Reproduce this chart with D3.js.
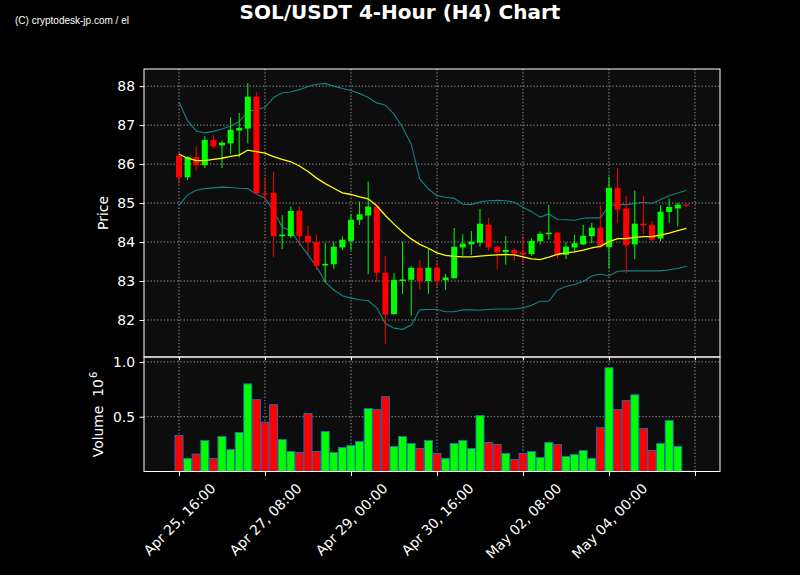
<!DOCTYPE html>
<html><head><meta charset="utf-8">
<script src="https://cdn.jsdelivr.net/npm/d3@7"></script>
<style>html,body{margin:0;padding:0;background:#000;}svg{display:block;}</style>
</head><body>
<div id="chart"></div>
<script>
const openP  = [86.21,85.66,86.18,85.97,86.62,86.48,86.53,86.86,86.91,87.73,85.25,85.26,84.15,84.15,84.80,84.16,84.00,83.40,83.43,83.86,84.03,84.57,84.68,84.91,83.21,82.15,83.00,83.03,83.34,83.00,83.34,83.02,83.07,83.86,83.94,83.98,84.44,83.88,83.74,83.80,83.73,83.69,84.02,84.20,84.24,83.67,83.86,83.94,84.15,84.37,83.87,85.39,84.86,83.94,84.47,84.44,84.09,84.77,84.86,84.96];
const highP  = [86.26,86.20,86.46,86.72,86.75,86.60,87.20,87.31,88.08,87.84,85.62,85.81,84.69,84.91,84.92,84.42,84.19,83.97,84.01,84.14,84.72,85.04,85.55,84.91,83.65,83.20,84.01,83.38,83.54,83.82,83.52,83.18,84.36,84.20,84.28,84.85,84.62,83.90,84.15,83.84,84.16,84.09,84.27,84.95,84.27,83.99,84.19,84.44,84.49,84.95,85.68,85.90,85.19,85.32,85.19,84.54,84.95,85.11,85.01,84.97];
const lowP   = [85.50,85.59,85.83,85.90,86.41,85.90,86.26,86.17,86.53,85.25,85.02,83.61,83.82,84.10,83.90,83.69,83.28,82.97,83.31,83.79,83.79,84.44,83.18,82.97,81.38,82.14,82.67,82.11,82.77,82.67,82.84,82.77,83.07,83.65,83.67,83.88,83.78,83.31,83.42,83.52,83.43,83.65,83.93,84.06,83.56,83.56,83.74,83.92,83.97,83.85,83.32,84.49,83.20,83.56,84.20,84.02,84.02,84.50,84.40,84.89];
const closeP = [85.66,86.18,85.97,86.62,86.45,86.55,86.88,86.93,87.73,85.25,85.24,84.15,84.19,84.80,84.15,83.99,83.39,83.44,83.88,84.06,84.57,84.71,84.91,83.21,82.14,83.03,83.04,83.34,83.00,83.34,83.01,83.09,83.88,83.96,84.01,84.47,83.86,83.74,83.80,83.71,83.68,84.03,84.21,84.24,83.67,83.88,83.97,84.16,84.37,83.88,85.39,84.83,83.92,84.47,84.43,84.06,84.78,84.90,84.96,84.93];
const volume = [0.329,0.12,0.159,0.283,0.12,0.32,0.20,0.356,0.80,0.656,0.45,0.61,0.292,0.183,0.174,0.529,0.183,0.365,0.174,0.22,0.238,0.274,0.574,0.565,0.683,0.229,0.32,0.256,0.21,0.283,0.165,0.12,0.256,0.283,0.21,0.51,0.265,0.247,0.165,0.11,0.165,0.183,0.129,0.265,0.247,0.138,0.156,0.192,0.12,0.40,0.947,0.565,0.647,0.70,0.392,0.192,0.256,0.465,0.229,0.003];
const sma20  = [86.26,86.15,86.09,86.09,86.12,86.15,86.20,86.23,86.36,86.32,86.28,86.19,86.12,86.06,85.95,85.81,85.64,85.50,85.38,85.26,85.22,85.16,85.11,84.93,84.68,84.46,84.26,84.08,83.94,83.84,83.72,83.66,83.63,83.62,83.62,83.64,83.66,83.67,83.68,83.67,83.62,83.57,83.55,83.61,83.68,83.72,83.75,83.79,83.85,83.89,84.01,84.09,84.09,84.12,84.14,84.14,84.18,84.23,84.29,84.35];
const upperBB= [87.59,87.11,86.85,86.80,86.84,86.90,86.98,87.09,87.35,87.40,87.45,87.71,87.83,87.85,87.91,87.99,88.05,88.07,88.00,87.94,87.89,87.81,87.71,87.57,87.51,87.28,86.94,86.51,85.62,85.36,85.19,85.15,85.12,84.97,84.96,85.03,85.06,85.07,85.06,85.02,84.89,84.78,84.64,84.72,84.58,84.57,84.56,84.61,84.62,84.62,84.93,84.96,84.96,84.99,85.02,84.99,85.09,85.19,85.26,85.32];
const lowerBB= [84.94,85.21,85.33,85.37,85.39,85.41,85.40,85.38,85.37,85.23,85.13,84.80,84.38,84.29,83.97,83.67,83.37,82.98,82.77,82.62,82.56,82.52,82.50,82.31,81.91,81.79,81.76,81.87,82.26,82.27,82.27,82.21,82.21,82.26,82.26,82.25,82.27,82.28,82.28,82.28,82.31,82.38,82.48,82.48,82.77,82.86,82.91,82.99,83.13,83.18,83.13,83.25,83.26,83.26,83.26,83.26,83.26,83.29,83.32,83.38];
const tickIndex  = [0,10,20,30,40,50,60];
const tickLabels = ["Apr 25, 16:00","Apr 27, 08:00","Apr 29, 00:00","Apr 30, 16:00","May 02, 08:00","May 04, 00:00",""];
const priceTicks = [82,83,84,85,86,87,88];
const volTicks   = [0.5,1.0];

const W=800,H=575;
const L=144,R=720,PT=69,PB=357,VB=471.5;
const FONT="DejaVu Sans, sans-serif";
const FS="13.9px";
const UP="#00ff00",DOWN="#ff0000";

const svg=d3.select("#chart").append("svg").attr("width",W).attr("height",H).style("background","#000");
const idx=d3.range(openP.length);
const x=d3.scaleLinear().domain([-4.07,62.91]).range([L,R]);
const yP=d3.scaleLinear().domain([81.05,88.44]).range([PB,PT]);
const yV=d3.scaleLinear().domain([0,1.045]).range([VB,PB]);
const step=x(1)-x(0);

svg.append("rect").attr("x",L).attr("y",PT).attr("width",R-L).attr("height",PB-PT).attr("fill","#0d0d0d");
svg.append("rect").attr("x",L).attr("y",PB).attr("width",R-L).attr("height",VB-PB).attr("fill","#0d0d0d");

const gridStyle=g=>g.attr("stroke","#9a9a9a").attr("stroke-width",1).attr("stroke-dasharray","1.3,2");
const grid=svg.append("g");
tickIndex.forEach(t=>{
  gridStyle(grid.append("line").attr("x1",x(t)).attr("x2",x(t)).attr("y1",PT).attr("y2",PB));
  gridStyle(grid.append("line").attr("x1",x(t)).attr("x2",x(t)).attr("y1",PB).attr("y2",VB));
});
priceTicks.forEach(p=>gridStyle(grid.append("line").attr("x1",L).attr("x2",R).attr("y1",yP(p)).attr("y2",yP(p))));
volTicks.forEach(v=>gridStyle(grid.append("line").attr("x1",L).attr("x2",R).attr("y1",yV(v)).attr("y2",yV(v))));

const line=arr=>d3.line().x((d,i)=>x(i)).y(d=>yP(d))(arr);
svg.append("path").attr("d",line(upperBB)).attr("fill","none").attr("stroke","#128484").attr("stroke-width",1.1);
svg.append("path").attr("d",line(lowerBB)).attr("fill","none").attr("stroke","#128484").attr("stroke-width",1.1);

const cg=svg.append("g");
idx.forEach(i=>{
  const up=closeP[i]>=openP[i];
  const col=up?UP:DOWN;
  cg.append("line").attr("x1",x(i)).attr("x2",x(i)).attr("y1",yP(highP[i])).attr("y2",yP(lowP[i])).attr("stroke",col).attr("stroke-width",1);
  const top=yP(Math.max(openP[i],closeP[i])), bot=yP(Math.min(openP[i],closeP[i]));
  cg.append("rect").attr("x",x(i)-3).attr("width",6).attr("y",top).attr("height",Math.max(1.2,bot-top)).attr("fill",col);
});
svg.append("path").attr("d",line(sma20)).attr("fill","none").attr("stroke","#ffff00").attr("stroke-width",1.3);

const vg=svg.append("g");
idx.forEach(i=>{
  const up=closeP[i]>=openP[i];
  vg.append("rect").attr("x",x(i)-step*0.47).attr("width",step*0.94).attr("y",yV(volume[i])).attr("height",VB-yV(volume[i]))
    .attr("fill",up?UP:DOWN).attr("stroke","#1f6fb4").attr("stroke-width",0.9);
});

svg.append("rect").attr("x",L).attr("y",PT).attr("width",R-L).attr("height",PB-PT).attr("fill","none").attr("stroke","#fff").attr("stroke-width",1);
svg.append("rect").attr("x",L).attr("y",PB).attr("width",R-L).attr("height",VB-PB).attr("fill","none").attr("stroke","#fff").attr("stroke-width",1);

const styleAxis=g=>{g.select(".domain").remove();g.selectAll("line").attr("stroke","#fff");g.selectAll("text").attr("fill","#fff").style("font-family",FONT).style("font-size",FS);};
svg.append("g").attr("transform",`translate(${L},0)`).call(d3.axisLeft(yP).tickValues(priceTicks).tickFormat(d3.format("d")).tickSize(4.5).tickPadding(4.5)).call(styleAxis);
svg.append("g").attr("transform",`translate(${L},0)`).call(d3.axisLeft(yV).tickValues(volTicks).tickFormat(d3.format(".1f")).tickSize(4.5).tickPadding(4.5)).call(styleAxis);
svg.append("g").attr("transform",`translate(0,${PB})`).call(d3.axisBottom(x).tickValues(tickIndex).tickFormat("").tickSize(3)).call(styleAxis);
const xa=svg.append("g").attr("transform",`translate(0,${VB})`).call(d3.axisBottom(x).tickValues(tickIndex).tickFormat((d,k)=>tickLabels[k]).tickSize(4.5)).call(styleAxis);
xa.selectAll("text").each(function(){
  const t=d3.select(this);
  const len=this.getComputedTextLength();
  const h=13;
  const half=(len+h)*Math.SQRT1_2/2;
  t.attr("text-anchor","middle").attr("dy",null).attr("dominant-baseline","central")
   .attr("y",0).attr("transform",`translate(0,${9.5+half}) rotate(-45)`);
});

svg.append("text").attr("transform",`translate(108,213) rotate(-90)`).attr("text-anchor","middle").attr("fill","#fff")
  .style("font-family",FONT).style("font-size",FS).text("Price");
const vl=svg.append("text").attr("transform",`translate(103,414.5) rotate(-90)`).attr("text-anchor","middle").attr("fill","#fff")
  .attr("xml:space","preserve").style("white-space","pre")
  .style("font-family",FONT).style("font-size",FS);
vl.append("tspan").text("Volume  10");
vl.append("tspan").attr("dy",-6).attr("dx",1).style("font-size","10px").text("6");

svg.append("text").attr("x",400).attr("y",18.5).attr("text-anchor","middle").attr("fill","#fff")
  .style("font-family",FONT).style("font-size","20px").style("font-weight","bold").text("SOL/USDT 4-Hour (H4) Chart");
svg.append("text").attr("x",15).attr("y",24).attr("fill","#fff")
  .style("font-family","Liberation Sans Narrow, Liberation Sans, sans-serif").style("font-size","10px").text("(C) cryptodesk-jp.com / el");
</script>
</body></html>
